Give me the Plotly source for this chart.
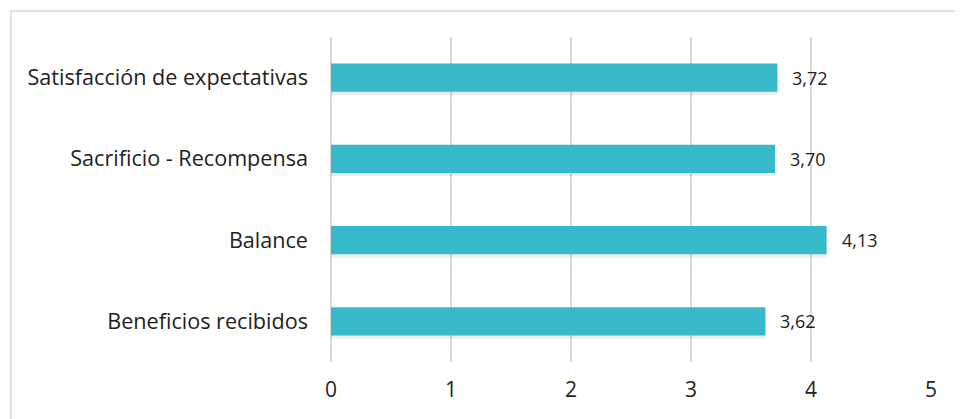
import plotly.graph_objects as go

categories = ["Satisfacción de expectativas", "Sacrificio - Recompensa", "Balance", "Beneficios recibidos"]
values = [3.72, 3.70, 4.13, 3.62]
labels = ["3,72", "3,70", "4,13", "3,62"]
tick_vals = [0, 1, 2, 3, 4, 5]

teal = "#38B9C9"
# page body has an 8px margin, so the figure is sized/placed to compensate
W, H = 955, 411
L, R, T, B = 323, 32, 29, 57
pw, ph = W - L - R, H - T - B

fig = go.Figure()
# soft drop shadow
fig.add_trace(go.Bar(
    y=categories, x=values, orientation="h", width=0.35, offset=-0.175 - 0.04,
    marker=dict(color="rgba(0,0,0,0.07)", line=dict(width=0)), hoverinfo="skip", showlegend=False,
))
fig.add_trace(go.Bar(
    y=categories, x=values, orientation="h", width=0.35, offset=-0.175,
    marker=dict(color=teal, line=dict(width=0)), showlegend=False,
))

for c, v, t in zip(categories, values, labels):
    fig.add_annotation(x=v, y=c, text=t, showarrow=False, xanchor="left", xshift=13,
                       font=dict(size=18, color="#222222", family="Open Sans"))

def px_x(p):
    return (p - L) / pw

def px_y(p):
    return (H - B - p) / ph

fig.add_shape(type="rect", xref="paper", yref="paper",
              x0=px_x(3), x1=px_x(975), y0=px_y(430), y1=px_y(3),
              line=dict(color="#e2e2e2", width=2), fillcolor="rgba(0,0,0,0)", layer="below")

fig.update_layout(
    width=W, height=H,
    margin=dict(l=L, r=R, t=T, b=B),
    paper_bgcolor="white", plot_bgcolor="white",
    barmode="overlay",
    font=dict(family="Open Sans", size=21, color="#222222"),
    xaxis=dict(range=[0, 5], tickvals=tick_vals, showgrid=True, gridcolor="#d9d9d9", gridwidth=2,
               zeroline=True, zerolinecolor="#d9d9d9", zerolinewidth=2, showline=False,
               ticklabelstandoff=13, fixedrange=True),
    yaxis=dict(categoryorder="array", categoryarray=categories[::-1], showgrid=False,
               showline=False, ticklabelstandoff=22, fixedrange=True,
               tickfont=dict(size=21.6)),
)

fig.write_html("out.html")
